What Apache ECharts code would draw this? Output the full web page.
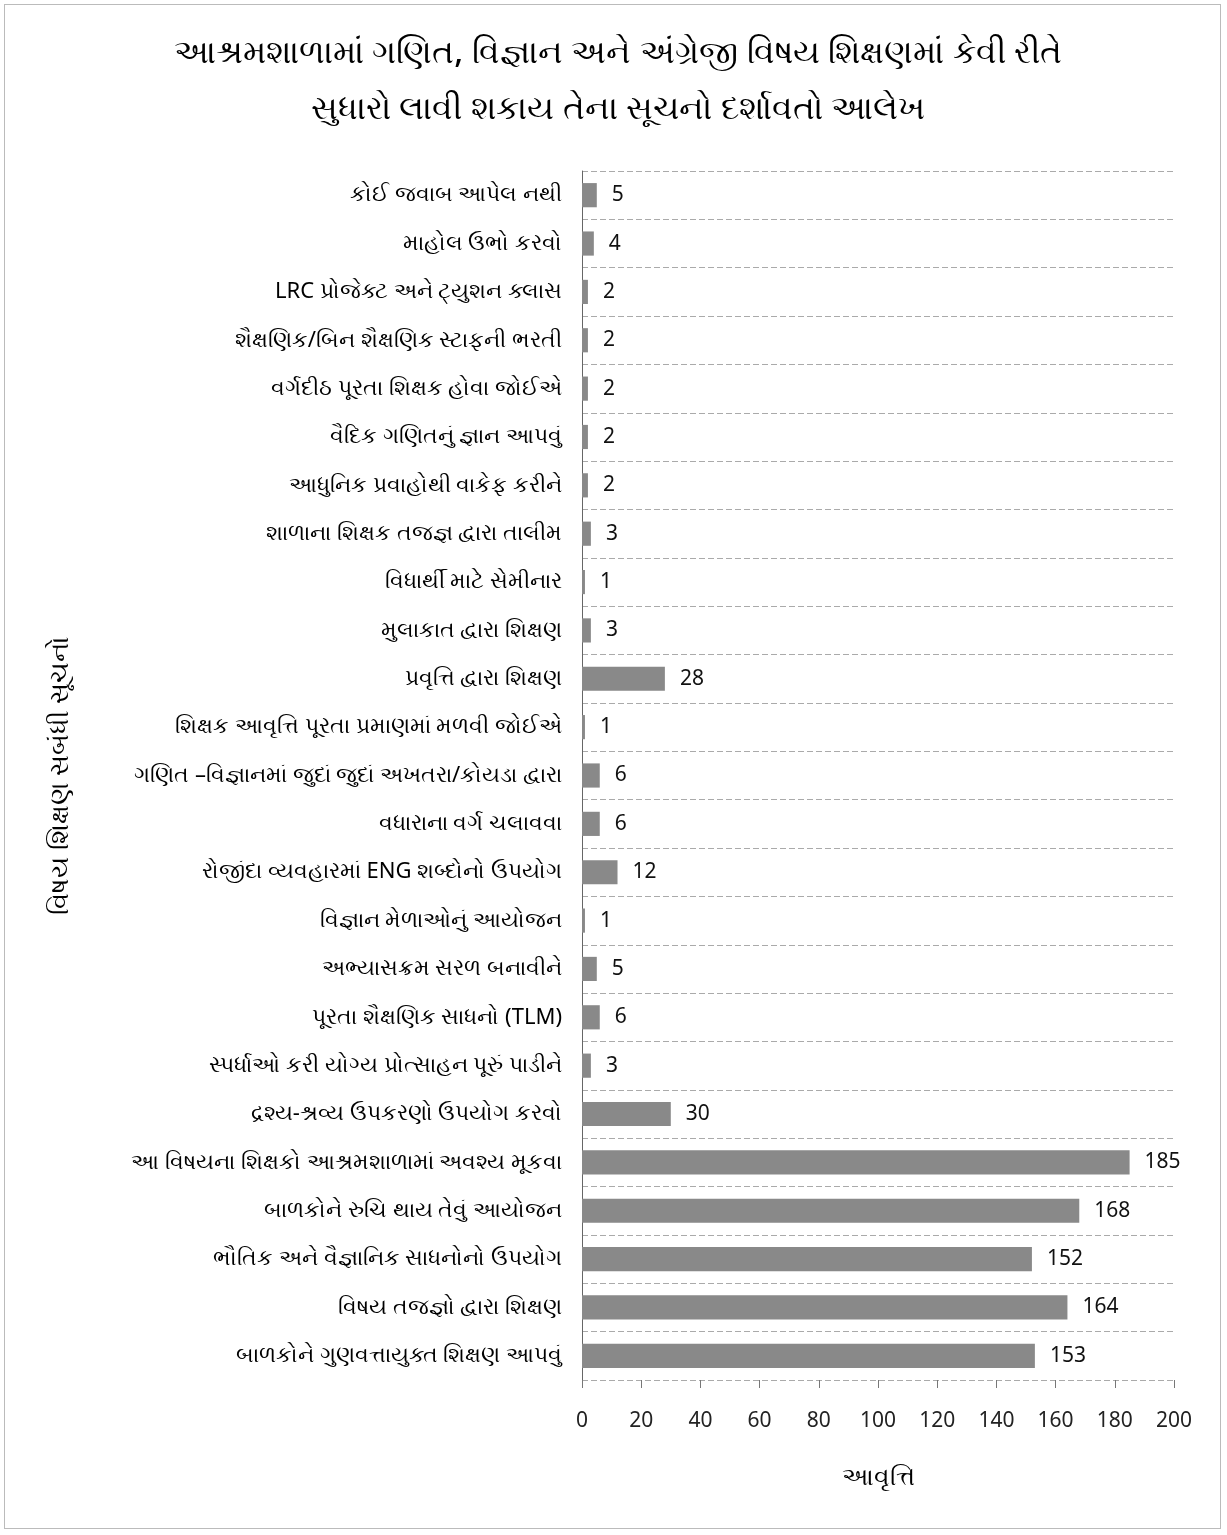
<!DOCTYPE html>
<html><head><meta charset="utf-8">
<script src="https://cdn.jsdelivr.net/npm/echarts@6/dist/echarts.min.js"></script>
<style>html,body{margin:0;padding:0;background:#fff}#c{width:1217px;height:1525px;margin:4px;border:1px solid #bbb;box-sizing:border-box}</style>
</head><body><div id="c"></div>
<script>
const titleLines = ['આશ્રમશાળામાં ગણિત, વિજ્ઞાન અને અંગ્રેજી વિષય શિક્ષણમાં કેવી રીતે', 'સુધારો લાવી શકાય તેના સૂચનો દર્શાવતો આલેખ'];
const categories = [
 'કોઈ જવાબ આપેલ નથી',
 'માહોલ ઉભો કરવો',
 'LRC પ્રોજેક્ટ અને ટ્યુશન ક્લાસ',
 'શૈક્ષણિક/બિન શૈક્ષણિક સ્ટાફની ભરતી',
 'વર્ગદીઠ પૂરતા શિક્ષક હોવા જોઈએ',
 'વૈદિક ગણિતનું જ્ઞાન આપવું',
 'આધુનિક પ્રવાહોથી વાકેફ કરીને',
 'શાળાના શિક્ષક તજજ્ઞ દ્વારા તાલીમ',
 'વિધાર્થી માટે સેમીનાર',
 'મુલાકાત દ્વારા શિક્ષણ',
 'પ્રવૃત્તિ દ્વારા શિક્ષણ',
 'શિક્ષક આવૃત્તિ પૂરતા પ્રમાણમાં મળવી જોઈએ',
 'ગણિત –વિજ્ઞાનમાં જુદાં જુદાં અખતરા/કોયડા દ્વારા',
 'વધારાના વર્ગ ચલાવવા',
 'રોજીંદા વ્યવહારમાં ENG શબ્દોનો ઉપયોગ',
 'વિજ્ઞાન મેળાઓનું આયોજન',
 'અભ્યાસક્રમ સરળ બનાવીને',
 'પૂરતા શૈક્ષણિક સાધનો (TLM)',
 'સ્પર્ધાઓ કરી યોગ્ય પ્રોત્સાહન પૂરું પાડીને',
 'દ્રશ્ય-શ્રવ્ય ઉપકરણો ઉપયોગ કરવો',
 'આ વિષયના શિક્ષકો આશ્રમશાળામાં અવશ્ય મૂકવા',
 'બાળકોને રુચિ થાય તેવું આયોજન',
 'ભૌતિક અને વૈજ્ઞાનિક સાધનોનો ઉપયોગ',
 'વિષય તજજ્ઞો દ્વારા શિક્ષણ',
 'બાળકોને ગુણવત્તાયુક્ત શિક્ષણ આપવું'
];
const values = [5,4,2,2,2,2,2,3,1,3,28,1,6,6,12,1,5,6,3,30,185,168,152,164,153];
const xAxisName = 'આવૃત્તિ';
const yAxisName = 'વિષય શિક્ષણ સબંધી સૂચનો';

const FONT = '"Noto Sans", sans-serif';
const chart = echarts.init(document.getElementById('c'));
chart.setOption({
  backgroundColor:'#fff',
  animation:false,
  title:{text:titleLines.join('\n'), left:608, top:16, textAlign:'center',
    textStyle:{fontFamily:FONT, fontSize:33, fontWeight:500, color:'#000', lineHeight:56}},
  grid:{left:577, right:46, top:166, bottom:148},
  xAxis:{type:'value', min:0, max:200, interval:20,
    name:xAxisName, nameLocation:'middle', nameGap:85,
    nameTextStyle:{fontFamily:FONT, fontSize:25, fontWeight:500, color:'#000'},
    axisLine:{show:false}, axisTick:{show:true, length:8, lineStyle:{color:'#777'}},
    axisLabel:{fontFamily:FONT, fontSize:21, color:'#222', margin:31},
    splitLine:{show:false}},
  yAxis:{type:'category', data:categories, inverse:true,
    name:yAxisName, nameLocation:'middle', nameGap:508, nameRotate:90,
    nameTextStyle:{fontFamily:FONT, fontSize:26, fontWeight:500, color:'#000'},
    axisLine:{show:true, lineStyle:{color:'#666'}}, axisTick:{show:false},
    axisLabel:{fontFamily:FONT, fontSize:22, color:'#000', margin:20},
    splitLine:{show:true, lineStyle:{color:'#aaa', type:[6,3], width:1}}},
  series:[{type:'bar', data:values, barWidth:'50%',
    itemStyle:{color:'#898989'},
    label:{show:true, position:'right', distance:15, fontFamily:FONT, fontSize:21, color:'#111'}}]
});
</script></body></html>
